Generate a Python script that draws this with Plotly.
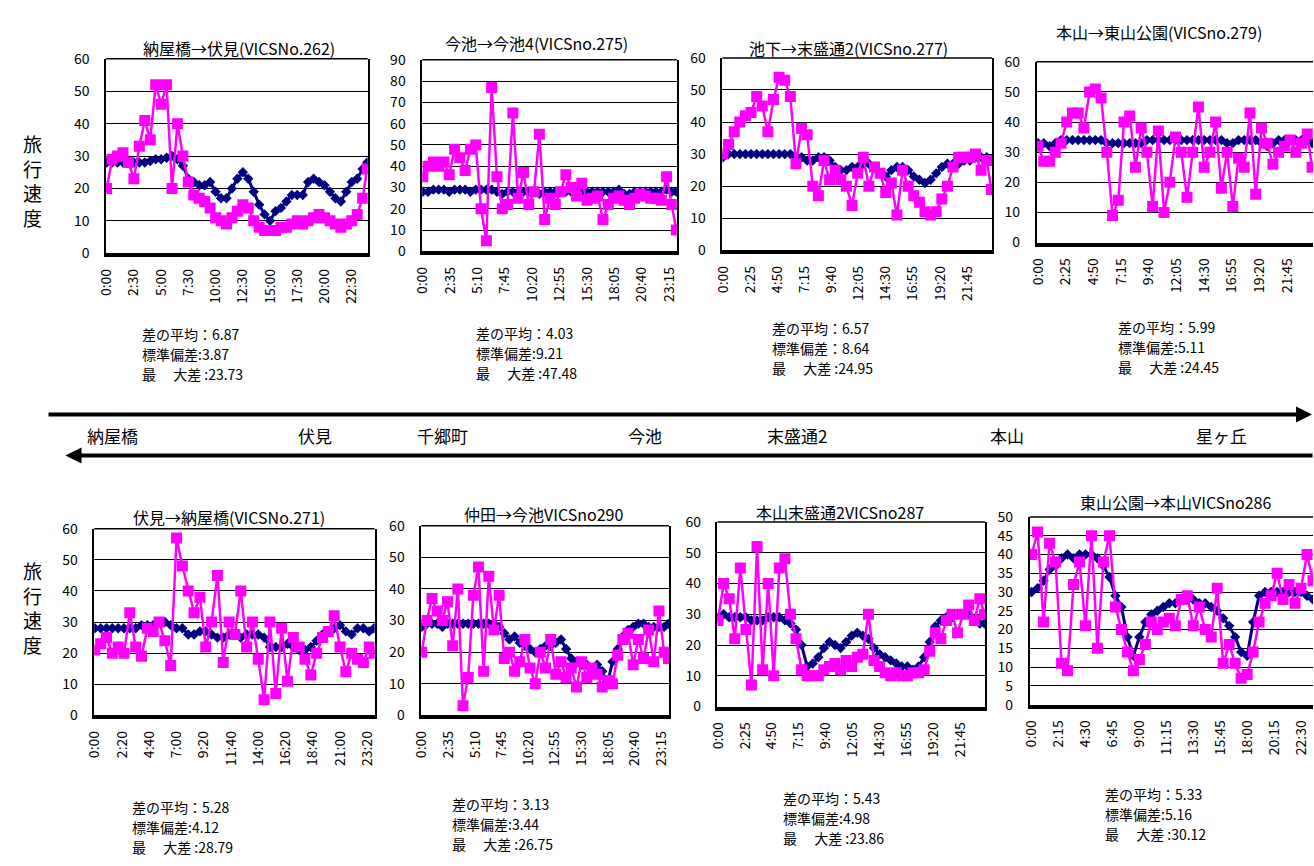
import plotly.graph_objects as go

W, H = 1314, 866
FONT = "Noto Sans CJK JP"

# x positions: half-hour slots (minutes after midnight) plus the last 5-min slot
TIMES = list(range(0, 1440, 30)) + [1435]

# ---------------- data (km/h) ----------------
NAVY_1 = [28, 28, 28, 28, 28, 28, 28, 28, 28.5, 29, 29, 29.5, 30, 29, 27, 23, 22, 21, 21, 22,
          19, 17, 17, 20, 23, 25, 23, 19, 15, 12, 10, 13, 14, 16, 18, 18, 18, 22, 23, 22,
          21, 19, 17, 16, 19, 22, 23, 26, 28]
PINK_1 = [20, 29, 30, 31, 28, 23, 33, 41, 35, 52, 46, 52, 20, 40, 30, 22, 18, 17, 16, 14,
          11, 10, 9, 11, 13, 15, 14, 10, 8, 7, 7, 7, 8, 8, 9, 10, 9, 10, 11, 12,
          11, 10, 9, 8, 9, 10, 12, 17, 26]

NAVY_2 = [28, 28, 29, 29, 29, 28, 29, 29, 29, 28, 29, 29, 29, 29, 28, 27, 28, 28, 28, 28,
          28, 28, 27, 28, 28, 28, 28, 28, 28, 28, 28, 28, 28, 28, 28, 28, 28, 29, 27, 27,
          28, 28, 28, 28, 28, 28, 29, 28, 28]
PINK_2 = [35, 40, 42, 40, 42, 36, 48, 44, 38, 48, 50, 20, 5, 77, 35, 20, 22, 65, 25, 37,
          22, 28, 55, 15, 25, 22, 28, 36, 30, 26, 32, 24, 25, 26, 15, 22, 25, 26, 24, 22,
          25, 27, 26, 25, 25, 24, 35, 22, 10]

NAVY_3 = [29, 30, 30, 30, 30, 30, 30, 30, 30, 30, 30, 30, 30, 29, 29, 28, 28, 29, 29, 28,
          26, 25, 25, 26, 26, 27, 27, 26, 24, 23, 25, 26, 26, 25, 23, 22, 21, 22, 24, 26,
          27, 27, 27, 28, 28, 29, 29, 29, 28]
PINK_3 = [30, 33, 37, 40, 42, 43, 48, 45, 37, 47, 54, 53, 48, 27, 38, 36, 20, 17, 28, 22,
          25, 22, 20, 14, 24, 29, 20, 26, 24, 18, 21, 11, 25, 20, 17, 15, 12, 11, 12, 16,
          20, 26, 29, 29, 29, 30, 25, 28, 19]

NAVY_4 = [33, 33, 32, 33, 34, 34, 34, 34, 34, 34, 34, 34, 33, 33, 33, 33, 33, 33, 33, 34,
          34, 34, 34, 34, 34, 34, 34, 34, 34, 34, 34, 34, 34, 33, 33, 34, 34, 34, 34, 33,
          32, 33, 34, 34, 34, 34, 34, 34, 33]
PINK_4 = [32, 27, 27, 30, 33, 40, 43, 43, 38, 50, 51, 48, 30, 9, 14, 40, 42, 25, 38, 30,
          12, 37, 10, 20, 35, 30, 15, 30, 45, 25, 30, 40, 18, 30, 12, 28, 25, 43, 16, 38,
          33, 26, 30, 32, 34, 30, 33, 36, 25]

NAVY_5 = [28, 28, 28, 28, 28, 28, 28, 28, 29, 29, 29, 30, 30, 29, 28, 28, 26, 26, 27, 27,
          26, 25, 25, 26, 26, 25, 26, 26, 26, 25, 22, 22, 22, 23, 22, 21, 21, 22, 24, 26,
          27, 28, 29, 27, 26, 28, 28, 27, 28]
PINK_5 = [21, 23, 25, 20, 22, 20, 33, 22, 19, 28, 27, 30, 24, 16, 57, 48, 40, 33, 38, 22,
          30, 45, 17, 30, 26, 40, 22, 30, 18, 5, 30, 7, 28, 11, 25, 22, 18, 13, 20, 25,
          27, 32, 22, 14, 20, 18, 17, 22, 20]

NAVY_6 = [28, 29, 29, 29, 28, 29, 29, 29, 29, 29, 29, 29, 29, 29, 29, 28, 26, 24, 25, 23,
          22, 21, 20, 21, 22, 22, 23, 24, 21, 18, 17, 16, 16, 15, 16, 14, 10, 17, 21, 25,
          27, 28, 29, 29, 28, 28, 28, 28, 29]
PINK_6 = [20, 30, 37, 33, 30, 36, 22, 40, 3, 12, 38, 47, 14, 44, 27, 38, 18, 20, 14, 17,
          24, 15, 10, 20, 15, 24, 13, 17, 12, 15, 9, 17, 12, 15, 13, 9, 11, 10, 19, 24,
          26, 16, 24, 18, 27, 17, 33, 20, 18]

NAVY_7 = [29, 30, 29, 29, 29, 29, 28, 28, 28, 29, 29, 29, 28, 27, 25, 20, 13, 14, 16, 19,
          21, 20, 19, 21, 23, 24, 23, 22, 19, 17, 16, 15, 14, 13, 13, 12, 13, 16, 21, 26,
          28, 29, 29, 30, 30, 30, 28, 27, 27]
PINK_7 = [28, 40, 35, 22, 45, 25, 7, 52, 12, 40, 10, 45, 48, 30, 22, 12, 10, 10, 10, 12,
          13, 14, 12, 15, 13, 16, 17, 30, 15, 13, 11, 10, 11, 10, 10, 11, 11, 12, 18, 24,
          22, 28, 30, 24, 30, 33, 28, 35, 30]

NAVY_8 = [30, 31, 33, 36, 37, 39, 40, 39, 40, 40, 40, 39, 37, 34, 29, 26, 18, 13, 18, 22,
          24, 25, 26, 27, 27, 28, 28, 28, 27, 27, 26, 25, 23, 21, 18, 14, 13, 22, 29, 30,
          30, 30, 30, 30, 30, 30, 29, 28, 28]
PINK_8 = [40, 46, 22, 43, 38, 11, 9, 32, 38, 21, 45, 15, 38, 45, 26, 20, 14, 9, 12, 16,
          22, 20, 22, 23, 21, 28, 29, 21, 26, 20, 18, 31, 11, 16, 11, 7, 8, 14, 22, 27,
          29, 35, 28, 32, 27, 31, 40, 33, 35]

TITLES = ["納屋橋→伏見(VICSNo.262)", "今池→今池4(VICSno.275)", "池下→末盛通2(VICSno.277)",
          "本山→東山公園(VICSno.279)", "伏見→納屋橋(VICSNo.271)", "仲田→今池VICSno290",
          "本山末盛通2VICSno287", "東山公園→本山VICSno286"]

TICKS_A = ["0:00", "2:30", "5:00", "7:30", "10:00", "12:30", "15:00", "17:30", "20:00", "22:30"]
TICKS_B = ["0:00", "2:35", "5:10", "7:45", "10:20", "12:55", "15:30", "18:05", "20:40", "23:15"]
TICKS_C = ["0:00", "2:25", "4:50", "7:15", "9:40", "12:05", "14:30", "16:55", "19:20", "21:45"]
TICKS_D = ["0:00", "2:20", "4:40", "7:00", "9:20", "11:40", "14:00", "16:20", "18:40", "21:00", "23:20"]
TICKS_E = ["0:00", "2:15", "4:30", "6:45", "9:00", "11:15", "13:30", "15:45", "18:00", "20:15", "22:30"]

STATS = [("6.87", "3.87", "23.73"), ("4.03", "9.21", "47.48"), ("6.57", "8.64", "24.95"),
         ("5.99", "5.11", "24.45"), ("5.28", "4.12", "28.79"), ("3.13", "3.44", "26.75"),
         ("5.43", "4.98", "23.86"), ("5.33", "5.16", "30.12")]

STATIONS = ["納屋橋", "伏見", "千郷町", "今池", "末盛通2", "本山", "星ヶ丘"]

# ---------------- layout geometry (pixels) ----------------
DOMS = [(96, 360, 49, 248), (415, 672, 50, 246), (718, 990, 48, 245), (1035, 1314, 52, 237),
        (84, 367, 530, 721), (414, 664, 527, 721), (713, 983, 523, 712), (1028, 1314, 518, 710)]
YMAX = [60, 90, 60, 60, 60, 60, 60, 50]
DTICK = [10, 10, 10, 10, 10, 10, 10, 5]
XR = [(-3, 1438), (-3, 1438), (-3, 1438), (-8, 1440), (-3, 1438), (-3, 1438), (-3, 1438), (-10, 1410)]
TICKSETS = [TICKS_A, TICKS_B, TICKS_C, TICKS_C, TICKS_D, TICKS_B, TICKS_C, TICKS_E]
NAVY = [NAVY_1, NAVY_2, NAVY_3, NAVY_4, NAVY_5, NAVY_6, NAVY_7, NAVY_8]
PINK = [PINK_1, PINK_2, PINK_3, PINK_4, PINK_5, PINK_6, PINK_7, PINK_8]
TITLE_POS = [(230, 38), (530, 33), (845, 38), (1159, 22), (220, 518), (537, 515), (837, 513), (1175, 503)]
# left x, centre y of the middle line of the stats block
STAT_POS = [(130, 351), (467, 350), (766, 345), (1115, 344),
            (120, 835), (443, 832), (777, 826), (1102, 822)]
STAT_GAP = 20.5
CUT = [False, False, False, True, False, False, False, True]


def px(x):
    return x / W


def py(y):
    return 1 - y / H


def to_min(lbl):
    h, m = lbl.split(":")
    return int(h) * 60 + int(m)


fig = go.Figure()
annotations = []
shapes = []
layout = {}

for i in range(8):
    n = i + 1
    xa = "x" if n == 1 else f"x{n}"
    ya = "y" if n == 1 else f"y{n}"
    l, r, t, b = DOMS[i]
    fig.add_trace(go.Scatter(
        x=TIMES, y=NAVY[i], xaxis=xa, yaxis=ya, mode="lines+markers",
        line=dict(color="#000080", width=3),
        marker=dict(symbol="diamond", size=8, color="#000080"),
        showlegend=False, hoverinfo="skip"))
    fig.add_trace(go.Scatter(
        x=TIMES, y=PINK[i], xaxis=xa, yaxis=ya, mode="lines+markers",
        line=dict(color="#FF00FF", width=2.5),
        marker=dict(symbol="square", size=11, color="#FF00FF"),
        showlegend=False, hoverinfo="skip"))

    ticks = TICKSETS[i]
    layout["xaxis" if n == 1 else f"xaxis{n}"] = dict(
        domain=[px(l), px(r)], anchor=ya, range=list(XR[i]),
        tickvals=[to_min(s) for s in ticks], ticktext=ticks, tickangle=-90,
        showgrid=False, zeroline=False, showline=True, linecolor="black", linewidth=4,
        mirror=False, ticks="", ticklabelstandoff=6,
        tickfont=dict(family=FONT, size=14, color="black"))
    layout["yaxis" if n == 1 else f"yaxis{n}"] = dict(
        domain=[py(b), py(t)], anchor=xa, range=[0, YMAX[i]], dtick=DTICK[i],
        showgrid=True, gridcolor="black", gridwidth=1, zeroline=False,
        showline=True, linecolor="black", linewidth=1.5, mirror=not CUT[i],
        ticks="", ticklabelstandoff=12,
        tickfont=dict(family=FONT, size=14, color="black"))
    shapes.append(dict(type="line", xref=f"{xa} domain", yref=f"{ya} domain",
                       x0=0, x1=1, y0=1, y1=1, line=dict(color="black", width=1.5)))

    tx, ty = TITLE_POS[i]
    annotations.append(dict(x=px(tx), y=py(ty), xref="paper", yref="paper", text=TITLES[i],
                            showarrow=False, xanchor="center", yanchor="middle",
                            font=dict(family=FONT, size=16, color="black")))
    sx, sy = STAT_POS[i]
    mean, sd_v, mx = STATS[i]
    sep = "：" if i == 2 else ":"
    lines = [f"差の平均：{mean}", f"標準偏差{sep}{sd_v}", f"最　 大差 :{mx}"]
    for k, txt in enumerate(lines):
        annotations.append(dict(x=px(sx), y=py(sy + (k - 1) * STAT_GAP), xref="paper",
                                yref="paper", text=txt, showarrow=False,
                                xanchor="left", yanchor="middle",
                                font=dict(family=FONT, size=14, color="black")))

for cy in (173, 611):
    annotations.append(dict(x=px(22), y=py(cy), xref="paper", yref="paper",
                            text="旅<br>行<br>速<br>度", showarrow=False,
                            xanchor="center", yanchor="middle",
                            font=dict(family=FONT, size=19, color="black")))

annotations.append(dict(x=px(1313), y=py(413), xref="paper", yref="paper", text="",
                        showarrow=True, ax=-(1313 - 48), ay=0, axref="pixel", ayref="pixel",
                        arrowhead=2, arrowsize=0.8, arrowwidth=4, arrowcolor="black"))
annotations.append(dict(x=px(55), y=py(455), xref="paper", yref="paper", text="",
                        showarrow=True, ax=(1320 - 55), ay=0, axref="pixel", ayref="pixel",
                        arrowhead=2, arrowsize=0.8, arrowwidth=4, arrowcolor="black"))

STATION_X = [102, 307, 435, 640, 793, 1005, 1222]
for name, sx in zip(STATIONS, STATION_X):
    annotations.append(dict(x=px(sx), y=py(435), xref="paper", yref="paper", text=name,
                            showarrow=False, xanchor="center", yanchor="middle",
                            font=dict(family=FONT, size=17, color="black")))

fig.update_layout(
    width=W, height=H, margin=dict(l=0, r=0, t=0, b=0),
    paper_bgcolor="white", plot_bgcolor="white", showlegend=False,
    annotations=annotations, shapes=shapes, **layout)

fig.write_html("out.html", config={"displayModeBar": False},
               post_script="document.body.style.margin='0';document.body.style.overflow='hidden';")
